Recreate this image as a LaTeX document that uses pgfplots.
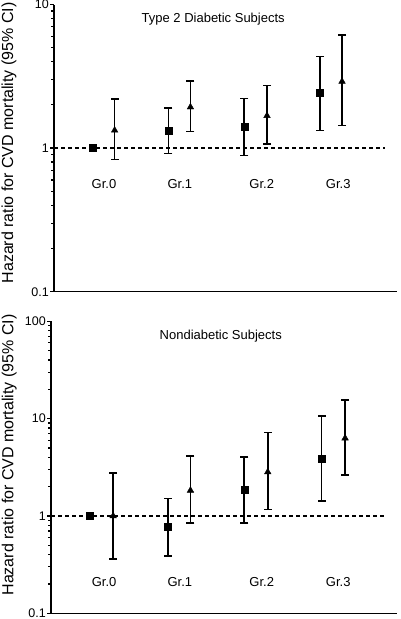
\documentclass[border=0pt]{standalone}
\usepackage{fontspec}
\setmainfont{Liberation Sans}
\usepackage{pgfplots}
\pgfplotsset{compat=1.18}
\pgfplotsset{
  myaxis/.style={
    scale only axis,
    axis lines*=left, xtick=\empty,
    axis line style={line width=1.3pt},
    tick style={line width=1.2pt, black},
    tick align=outside, major tick length=4pt,
    minor tick num=0, clip=false,
    ytick={0.1,1,10,100}, yticklabels={0.1,1,10,100},
    yticklabel style={font=\fontsize{12.5}{13}\selectfont, inner sep=1pt},
    /pgf/number format/assume math mode=true,
    ylabel={Hazard ratio for CVD mortality (95\% CI)},
  },
  ci/.style={line width=1.6pt, black, mark=-, mark size=4pt, unbounded coords=jump, mark options={line width=1.5pt}},
  sq/.style={only marks, mark=square*, mark size=3.5pt, black},
  tri/.style={only marks, mark=triangle*, mark size=3.8pt, black},
  refline/.style={line width=1.2pt, dash pattern=on 4pt off 3pt, black},
}
\tikzset{grl/.style={font=\fontsize{13}{14}\selectfont}}
\begin{document}
\begin{tikzpicture}
\useasboundingbox (0,0) rectangle (400pt,619pt);
% Top panel
\begin{axis}[ymode=log, myaxis, anchor=south west, at={(54pt,327.3pt)}, width=343pt, height=287.2pt,
  xmin=0, xmax=4.525, ymin=0.1, ymax=10,
  every axis y label/.style={at={(axis description cs:-0.131,0.518)}, rotate=90, anchor=center, font=\fontsize{16}{18}\selectfont}]
\addplot[refline] coordinates {(0,1) (4.37,1)};
\addplot[ci] coordinates {(1.51,0.92) (1.51,1.9) (1.51,nan) (2.51,0.89) (2.51,2.21) (2.51,nan) (3.51,1.33) (3.51,4.33)};
\addplot[ci] coordinates {(0.80,0.83) (0.80,2.2) (0.80,nan) (1.80,1.30) (1.80,2.94) (1.80,nan) (2.81,1.07) (2.81,2.73) (2.81,nan) (3.80,1.44) (3.80,6.15)};
\addplot[sq] coordinates {(0.51,1.0) (1.51,1.32) (2.51,1.41) (3.51,2.42)};
\addplot[tri] coordinates {(0.80,1.33) (1.80,1.93) (2.81,1.68) (3.80,2.91)};
\node[grl] at (axis cs:2.10,7.9) {Type 2 Diabetic Subjects};
\node[grl] at (axis cs:0.66,0.56) {Gr.0};
\node[grl] at (axis cs:1.66,0.56) {Gr.1};
\node[grl] at (axis cs:2.74,0.56) {Gr.2};
\node[grl] at (axis cs:3.75,0.56) {Gr.3};
\end{axis}
% Bottom panel
\begin{axis}[ymode=log, myaxis, anchor=south west, at={(51pt,5.7pt)}, width=346pt, height=292pt,
  xmin=-0.04, xmax=4.525, ymin=0.1, ymax=100,
  every axis y label/.style={at={(axis description cs:-0.121,0.542)}, rotate=90, anchor=center, font=\fontsize{16}{18}\selectfont}]
\addplot[refline] coordinates {(-0.04,1) (4.35,1)};
\addplot[ci] coordinates {(1.50,0.39) (1.50,1.52) (1.50,nan) (2.51,0.85) (2.51,4.03) (2.51,nan) (3.53,1.43) (3.53,10.6)};
\addplot[ci] coordinates {(0.78,0.36) (0.78,2.76) (0.78,nan) (1.80,0.85) (1.80,4.12) (1.80,nan) (2.82,1.16) (2.82,7.2) (2.82,nan) (3.84,2.63) (3.84,15.5)};
\addplot[sq] coordinates {(0.47,1.0) (1.50,0.78) (2.51,1.87) (3.53,3.88)};
\addplot[tri] coordinates {(0.78,1.0) (1.80,1.83) (2.82,2.83) (3.84,6.3)};
\node[grl] at (axis cs:2.20,70) {Nondiabetic Subjects};
\node[grl] at (axis cs:0.66,0.21) {Gr.0};
\node[grl] at (axis cs:1.66,0.21) {Gr.1};
\node[grl] at (axis cs:2.74,0.21) {Gr.2};
\node[grl] at (axis cs:3.75,0.21) {Gr.3};
\end{axis}
\end{tikzpicture}
\end{document}
